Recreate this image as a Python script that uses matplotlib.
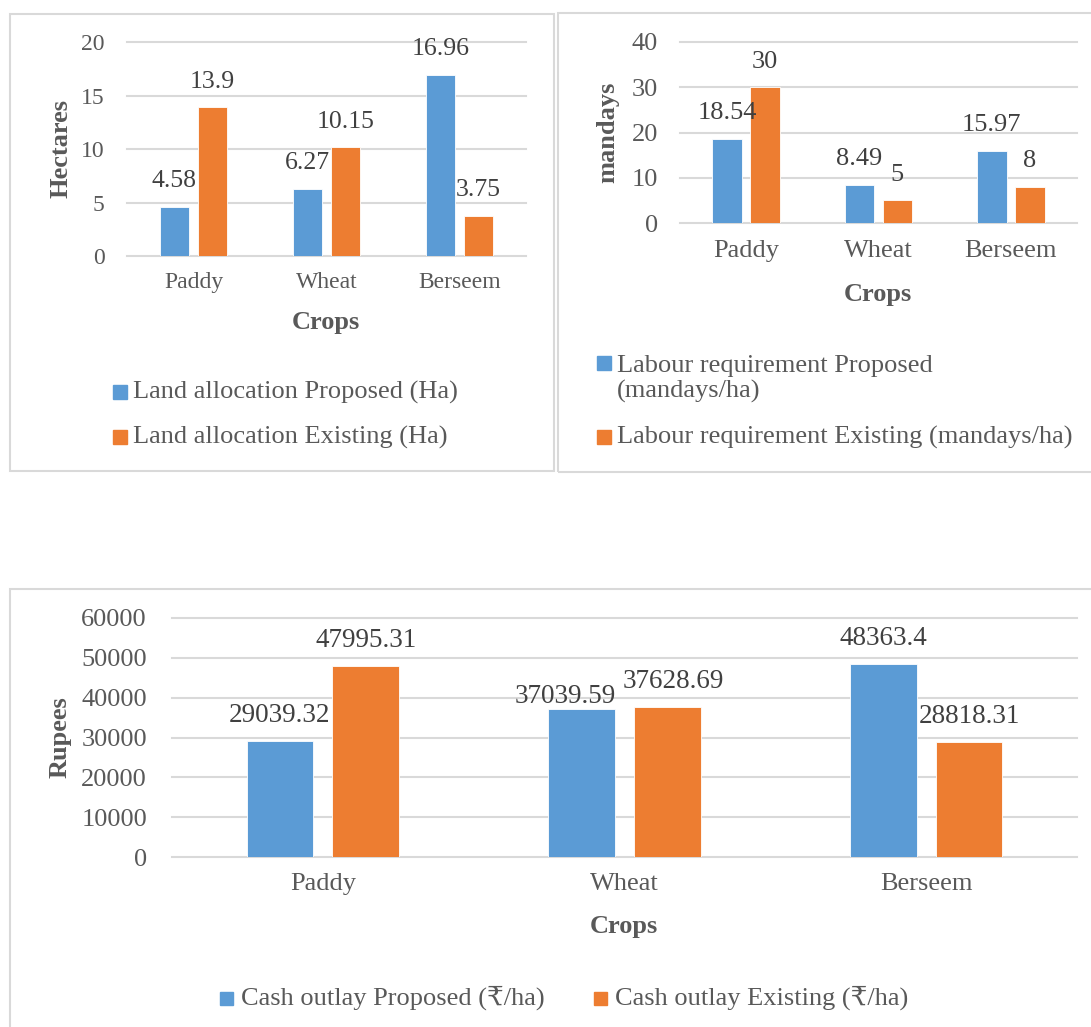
import numpy as np
import matplotlib
matplotlib.use('Agg')
import matplotlib.pyplot as plt
from matplotlib.patches import Rectangle

plt.rcParams['font.family'] = ['Liberation Serif', 'DejaVu Serif', 'DejaVu Sans']

# data
crops = ['Paddy', 'Wheat', 'Berseem']
land_proposed = [4.58, 6.27, 16.96]
land_existing = [13.9, 10.15, 3.75]
labour_proposed = [18.54, 8.49, 15.97]
labour_existing = [30, 5, 8]
cash_proposed = [29039.32, 37039.59, 48363.4]
cash_existing = [47995.31, 37628.69, 28818.31]

BLUE = '#5B9BD5'
ORANGE = '#ED7D31'
GRID = '#D9D9D9'
TXT = '#595959'

W, H = 1091, 1027
fig = plt.figure(figsize=(W / 100, H / 100), dpi=100)
label_pairs = []  # (proposed label, existing label) per crop, for overlap fixing


def box(l, t, r, b):
    # pixel box -> figure fraction
    return [l / W, 1 - b / H, (r - l) / W, (b - t) / H]


def frame(l, t, r, b):
    fig.add_artist(Rectangle((l / W, 1 - b / H), (r - l) / W, (b - t) / H,
                             transform=fig.transFigure, fill=False,
                             edgecolor=GRID, lw=1.5))


def bar_panel(rect, prop, exist, ymax, step, width, off, tick_fs, label_fs, xpad, ypad):
    ax = fig.add_axes(box(*rect))
    x = np.arange(len(crops))
    b1 = ax.bar(x - off, prop, width, color=BLUE, edgecolor='white', lw=0.6, zorder=3)
    b2 = ax.bar(x + off, exist, width, color=ORANGE, edgecolor='white', lw=0.6, zorder=3)
    ax.set_xlim(-0.5, len(crops) - 0.5)
    ax.set_ylim(0, ymax)
    ax.set_yticks(np.arange(0, ymax + 1, step))
    ax.set_xticks(x, crops)
    ax.grid(axis='y', color=GRID, lw=1.5)
    ax.set_axisbelow(True)
    for ln in ax.get_ygridlines():
        ln.set_clip_on(False)
    for s in ax.spines.values():
        s.set_visible(False)
    ax.tick_params(length=0, colors=TXT, labelsize=tick_fs)
    ax.tick_params(axis='x', pad=xpad)
    ax.tick_params(axis='y', pad=ypad)
    anns = []
    for bars, vals in ((b1, prop), (b2, exist)):
        row = []
        for r, v in zip(bars, vals):
            row.append(ax.annotate(str(v), (r.get_x() + r.get_width() / 2, v),
                                   xytext=(0, 18.5), textcoords='offset points',
                                   ha='center', va='center', fontsize=label_fs,
                                   color='#404040', zorder=5))
        anns.append(row)
    label_pairs.extend(zip(anns[0], anns[1]))
    return ax


def legend_entry(xp, y, size, gap, text, color, fs, ty=None):
    fig.add_artist(Rectangle((xp / W, 1 - (y + size / 2) / H), size / W, size / H,
                             transform=fig.transFigure, color=color))
    fig.text((xp + size + gap) / W, 1 - (ty if ty else y) / H, text,
             ha='left', va='center', fontsize=fs, color=TXT, linespacing=1.2)


def title(x, y, text, rot=0, fs=19):
    fig.text(x / W, 1 - y / H, text, ha='center', va='center', rotation=rot,
             fontsize=fs, fontweight='bold', color=TXT)


# panel borders
frame(10, 14, 554, 471)
frame(558, 13, W + 5, 472)
frame(10, 589, W + 5, H + 5)

# land allocation
bar_panel((127, 42, 526, 256), land_proposed, land_existing, 20, 5,
          0.225, 0.143, 17, 18.5, 11.5, 16)
title(61, 149, 'Hectares', rot=90)
title(326, 322, 'Crops')
legend_entry(113, 392, 14, 6, 'Land allocation Proposed (Ha)', BLUE, 19)
legend_entry(113, 437, 14, 6, 'Land allocation Existing (Ha)', ORANGE, 19)

# labour requirement
bar_panel((680, 42, 1077, 223), labour_proposed, labour_existing, 40, 10,
          0.225, 0.143, 19, 19, 12, 16)
title(608, 132, 'mandays', rot=90)
title(878, 295, 'Crops')
legend_entry(597, 363, 14, 6, 'Labour requirement Proposed\n(mandays/ha)', BLUE, 19, ty=379)
legend_entry(597, 437, 14, 6, 'Labour requirement Existing (mandays/ha)', ORANGE, 19)

# cash outlay
bar_panel((172, 618, 1077, 857), cash_proposed, cash_existing, 60000, 10000,
          0.222, 0.142, 19, 19.5, 11.5, 18)
title(60, 737, 'Rupees', rot=90)
title(624, 926, 'Crops')
legend_entry(220, 998, 13, 8, 'Cash outlay Proposed (₹/ha)', BLUE, 19)
legend_entry(594, 998, 13, 8, 'Cash outlay Existing (₹/ha)', ORANGE, 19)

# push apart data labels that collide, like Excel does
fig.canvas.draw()
rend = fig.canvas.get_renderer()
for a, b in label_pairs:
    ba = a.get_window_extent(rend)
    bb = b.get_window_extent(rend)
    overlap_y = ba.y1 > bb.y0 and bb.y1 > ba.y0
    if overlap_y and ba.x1 > bb.x0 - 2:
        shift = (ba.x1 - bb.x0 + 6) * 0.72  # px -> pt
        ax_, ay_ = a.xyann
        bx_, by_ = b.xyann
        a.xyann = (ax_ - shift * 0.74, ay_ - 9)
        b.xyann = (bx_ + shift * 0.26, by_)

fig.savefig('out.png', dpi=100)
